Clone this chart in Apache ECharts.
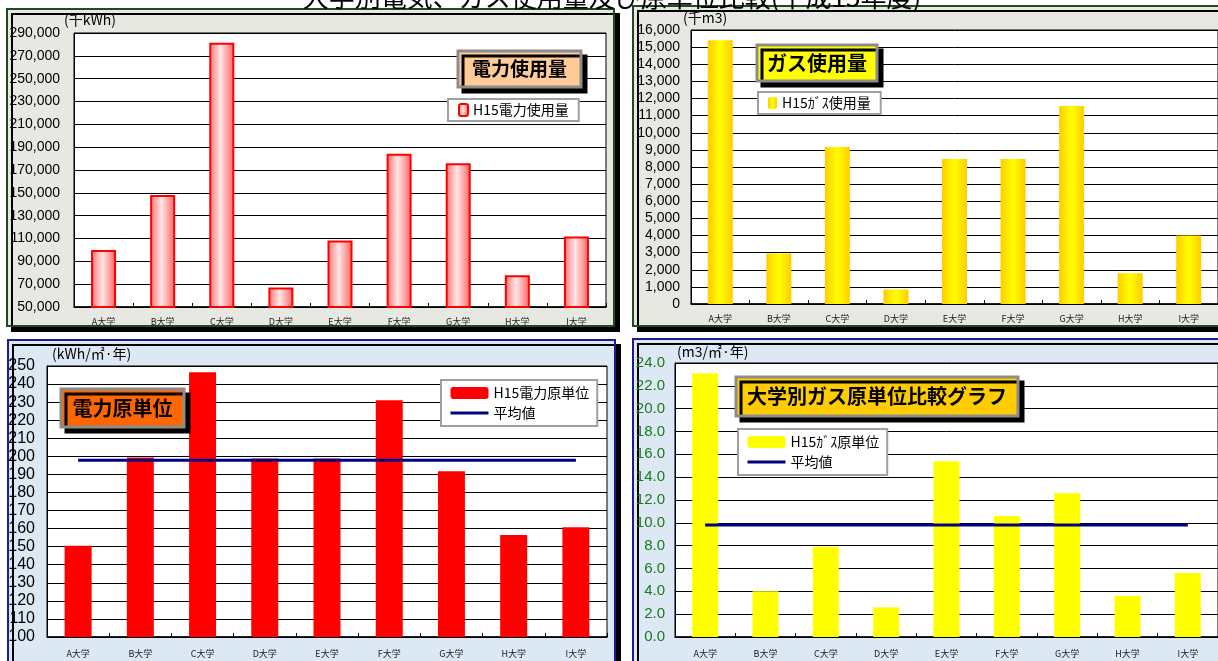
<!DOCTYPE html>
<html>
<head>
<meta charset="utf-8">
<script src="https://cdn.jsdelivr.net/npm/echarts@6/dist/echarts.min.js"></script>
<style>
html,body{margin:0;padding:0;background:#fff;}
#c{width:1218px;height:661px;}
</style>
</head>
<body>
<div id="c"></div>
<script>
// ---- data ----
const categories = ['A大学','B大学','C大学','D大学','E大学','F大学','G大学','H大学','I大学'];
const elecUse = [100000, 148000, 281500, 67000, 108200, 184200, 176000, 77800, 111700];
const gasUse = [15400, 2950, 9170, 850, 8470, 8460, 11560, 1800, 4000];
const elecUnit = [150.5, 199.4, 246.6, 198.8, 198.8, 231.0, 191.8, 156.4, 160.8];
const elecAvg = [197.8, 197.8, 197.8, 197.8, 197.8, 197.8, 197.8, 197.8, 197.8];
const gasUnit = [23.1, 4.0, 7.9, 2.6, 15.4, 10.6, 12.6, 3.6, 5.6];
const gasAvg = [9.8, 9.8, 9.8, 9.8, 9.8, 9.8, 9.8, 9.8, 9.8];
const elecUseTicks = [50000, 70000, 90000, 110000, 130000, 150000, 170000, 190000, 210000, 230000, 250000, 270000, 290000];

const pageTitle = '大学別電気、ガス使用量及び原単位比較(平成15年度)';
const units = ['(千kWh)', '(千m3)', '(kWh/㎡·年)', '(m3/㎡·年)'];
const panelTitles = ['電力使用量', 'ガス使用量', '電力原単位', '大学別ガス原単位比較グラフ'];
const seriesNames = ['H15電力使用量', 'H15ｶﾞｽ使用量', 'H15電力原単位', '平均値', 'H15ｶﾞｽ原単位'];

const NUM = "'Liberation Sans', 'Noto Sans CJK JP', sans-serif";
const JP = "'Noto Sans CJK JP', sans-serif";

const chart = echarts.init(document.getElementById('c'), null, {renderer: 'canvas'});

function fmtThousands(v) { return v.toLocaleString('en-US'); }

function xAxis(gi, margin) {
  return {
    type: 'category', gridIndex: gi, data: categories,
    axisLine: {lineStyle: {color: '#000', width: 1.5}},
    axisTick: {show: true, inside: true, length: 4, lineStyle: {color: '#000'}},
    axisLabel: {fontSize: 9, color: '#222', fontFamily: JP, margin: margin}
  };
}
function yAxis(gi, min, max, interval, fmt, fontSize, color, margin, splitColors) {
  return {
    type: 'value', gridIndex: gi, min: min, max: max, interval: interval,
    axisLine: {show: true, lineStyle: {color: '#000'}},
    axisTick: {show: false},
    axisLabel: {formatter: fmt, fontSize: fontSize, color: color, fontFamily: NUM, margin: margin},
    splitLine: {show: true, lineStyle: {color: splitColors || '#000', width: 1}}
  };
}

function panel(x, y, w, h, fill, stroke) {
  return {
    type: 'rect', z: -100, silent: true,
    shape: {x: x, y: y, width: w, height: h},
    style: {fill: fill, stroke: stroke, lineWidth: 2, shadowColor: '#000', shadowOffsetX: 5, shadowOffsetY: 5, shadowBlur: 0}
  };
}
function titleBox(x, y, w, h, fill, text, fs) {
  return {
    type: 'group', z: 200, children: [
      {type: 'rect', z: 200, shape: {x: x, y: y, width: w, height: h},
       style: {fill: fill, stroke: '#8c8c8c', lineWidth: 3, shadowColor: '#000', shadowOffsetX: 5, shadowOffsetY: 5, shadowBlur: 0}},
      {type: 'text', z: 201, x: x + w / 2, y: y + h / 2,
       style: {text: text, fill: '#000', fontSize: fs, fontWeight: 'bold', fontFamily: JP, align: 'center', verticalAlign: 'middle'}}
    ]
  };
}
function unitText(x, y, text) {
  return {type: 'text', z: 50, x: x, y: y,
    style: {text: text, fill: '#000', fontSize: 14, fontFamily: JP, verticalAlign: 'middle'}};
}

const legendBase = {
  backgroundColor: '#fff', borderColor: '#a0a0a0', borderWidth: 2, borderRadius: 0,
  orient: 'vertical', textStyle: {fontSize: 14, fontFamily: JP, color: '#000'}, selectedMode: false
};
const avgLegendItem = {name: seriesNames[3], itemStyle: {color: 'rgba(0,0,0,0)', borderWidth: 0, opacity: 0},
  lineStyle: {color: '#000080', width: 3}};

const option = {
  animation: false,
  backgroundColor: '#fff',
  grid: [
    {left: 74, top: 33, width: 532, height: 274, show: true, backgroundColor: '#fff', borderColor: '#000', borderWidth: 1},
    {left: 691, top: 30, width: 527, height: 274, show: true, backgroundColor: '#fff', borderColor: '#000', borderWidth: 1},
    {left: 47, top: 366, width: 560, height: 271, show: true, backgroundColor: '#fff', borderColor: '#000', borderWidth: 1},
    {left: 675, top: 363, width: 547, height: 274, show: true, backgroundColor: '#fff', borderColor: '#000', borderWidth: 1}
  ],
  xAxis: [xAxis(0, 10), xAxis(1, 10), xAxis(2, 12), xAxis(3, 12)],
  yAxis: [
    yAxis(0, 50000, 290000, 10000, function (v) { return elecUseTicks.indexOf(v) >= 0 ? fmtThousands(v) : ''; }, 14, '#000', 14, ['#000', 'rgba(0,0,0,0)']),
    yAxis(1, 0, 16000, 1000, function (v) { return fmtThousands(v); }, 14, '#000', 11),
    yAxis(2, 100, 250, 10, function (v) { return String(v); }, 16, '#000', 12),
    yAxis(3, 0, 24, 2, function (v) { return v.toFixed(1); }, 15, '#1a7a1a', 10)
  ],
  legend: [
    Object.assign({}, legendBase, {data: [seriesNames[0]], left: 448, top: 99, padding: [4, 10, 4, 10], itemWidth: 9, itemHeight: 12}),
    Object.assign({}, legendBase, {data: [seriesNames[1]], left: 758, top: 92, padding: [4, 10, 4, 10], itemWidth: 9, itemHeight: 12}),
    Object.assign({}, legendBase, {data: [seriesNames[2], avgLegendItem], left: 441, top: 380, padding: [6, 8, 6, 8], itemWidth: 38, itemHeight: 12, itemGap: 6}),
    Object.assign({}, legendBase, {data: [seriesNames[4], avgLegendItem], left: 738, top: 429, padding: [6, 8, 6, 8], itemWidth: 38, itemHeight: 12, itemGap: 6})
  ],
  series: [
    {name: seriesNames[0], type: 'bar', xAxisIndex: 0, yAxisIndex: 0, data: elecUse, barWidth: 25,
     itemStyle: {borderColor: '#ff0000', borderWidth: 2,
       color: new echarts.graphic.LinearGradient(0, 0, 1, 0, [
         {offset: 0, color: '#ff7070'}, {offset: 0.45, color: '#ffe6e6'}, {offset: 1, color: '#ff6060'}])}},
    {name: seriesNames[1], type: 'bar', xAxisIndex: 1, yAxisIndex: 1, data: gasUse, barWidth: 25,
     itemStyle: {color: new echarts.graphic.LinearGradient(0, 0, 1, 0, [
         {offset: 0, color: '#ffcc00'}, {offset: 0.5, color: '#ffff00'}, {offset: 1, color: '#ffcc00'}])}},
    {name: seriesNames[2], type: 'bar', xAxisIndex: 2, yAxisIndex: 2, data: elecUnit, barWidth: 27,
     itemStyle: {color: '#ff0000'}},
    {name: seriesNames[3], type: 'line', xAxisIndex: 2, yAxisIndex: 2, data: elecAvg, symbol: 'none', z: 5,
     lineStyle: {color: '#000080', width: 3}, itemStyle: {color: '#000080'}},
    {name: seriesNames[4], type: 'bar', xAxisIndex: 3, yAxisIndex: 3, data: gasUnit, barWidth: 26,
     itemStyle: {color: '#ffff00'}},
    {name: seriesNames[3], type: 'line', xAxisIndex: 3, yAxisIndex: 3, data: gasAvg, symbol: 'none', z: 5,
     lineStyle: {color: '#000080', width: 3}, itemStyle: {color: '#000080'}}
  ],
  graphic: [
    panel(7, 9, 607, 317, '#e8e8e2', '#1d4d1d'),
    panel(633, 6, 590, 320, '#e8e8e2', '#1d4d1d'),
    panel(8, 340, 607, 330, '#dde8f5', '#1c1c96'),
    panel(633, 339, 590, 330, '#dde8f5', '#1c1c96'),
    unitText(64, 20, units[0]),
    unitText(683, 18, units[1]),
    unitText(52, 354, units[2]),
    unitText(677, 352, units[3]),
    titleBox(458, 51, 123, 36, '#ffcc99', panelTitles[0], 19),
    titleBox(757, 45, 120, 36, '#ffff00', panelTitles[1], 20),
    titleBox(61, 389, 123, 38, '#ff6600', panelTitles[2], 20),
    titleBox(736, 377, 282, 39, '#ffcc00', panelTitles[3], 20),
    {type: 'text', z: 300, x: 612, y: 10,
     style: {text: pageTitle, fill: '#000', fontSize: 26, fontFamily: JP, align: 'center', verticalAlign: 'bottom'}}
  ]
};
chart.setOption(option);
</script>
</body>
</html>
